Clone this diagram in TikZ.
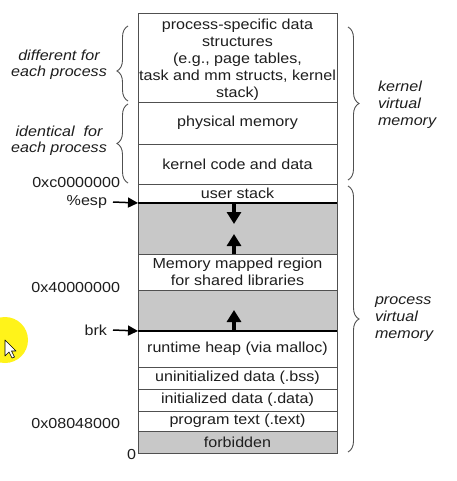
\documentclass[tikz,border=0pt]{standalone}
\usepackage{fontspec}
\setmainfont[FakeStretch=1.11]{Liberation Sans}
\usetikzlibrary{arrows.meta,decorations.pathreplacing}
\definecolor{edge}{HTML}{505050}
\definecolor{grayfill}{HTML}{C8C8C8}
\definecolor{ink}{HTML}{1E1E1E}
\begin{document}
\begin{tikzpicture}[x=1pt,y=-1pt,
  every node/.style={text=ink,font=\fontsize{14.5}{17}\selectfont,inner sep=0pt,outer sep=0pt},
  region/.style={draw=edge,line width=0.9pt,minimum width=199pt,align=center,fill=white},
  hole/.style={region,fill=grayfill},
  addr/.style={anchor=east},
  side/.style={font=\fontsize{14.5}{15.5}\selectfont\itshape,align=center},
  sideL/.style={font=\fontsize{14.5}{17}\selectfont\itshape,align=left,anchor=west},
  brc/.style={decorate,decoration={brace,amplitude=11pt},draw=edge,line width=0.9pt},
  ptr/.style={-{Triangle[width=10pt,length=10pt]},line width=1.5pt,black},
  growarrow/.style={-{Triangle[width=14pt,length=12pt]},line width=3.5pt,black}
]
\useasboundingbox (0,0) rectangle (456,481);
\fill[white] (0,0) rectangle (456,481);

% regions
\node[region,minimum height=89pt] (pss) at (237.5,57.5) {};
\node[align=center] (psst) at (237.5,60) {process-specific data\\structures\\(e.g., page tables,\\task and mm structs, kernel\\stack)};
\node[region,minimum height=42pt] (phys) at (237.5,123) {physical memory};
\node[region,minimum height=40pt] (kcode) at (237.5,164) {kernel code and data};
\node[region,minimum height=19pt] (ustack) at (237.5,193.5) {user stack};
\node[hole,minimum height=51pt] (gap1) at (237.5,228.5) {};
\node[region,minimum height=36pt] (mmap) at (237.5,272) {Memory mapped region\\for shared libraries};
\node[hole,minimum height=41pt] (gap2) at (237.5,310.5) {};
\node[region,minimum height=36pt] (heap) at (237.5,349) {runtime heap (via malloc)};
\node[region,minimum height=22pt] (bss) at (237.5,378) {uninitialized data (.bss)};
\node[region,minimum height=22pt] (data) at (237.5,400) {initialized data (.data)};
\node[region,minimum height=20pt] (text) at (237.5,421) {program text (.text)};
\node[hole,minimum height=22pt] (forb) at (237.5,442) {forbidden};

% pointer lines
\draw[black,line width=1.4pt] (ustack.south west) -- (ustack.south east);
\draw[black,line width=1.4pt] (heap.north west) -- (heap.north east);

% growth arrows
\coordinate (s1a) at (234,203.5);
\coordinate (s1b) at (234,224);
\coordinate (m1a) at (234,254);
\coordinate (m1b) at (234,234);
\coordinate (h1a) at (234,331);
\coordinate (h1b) at (234,310);
\draw[growarrow] (s1a) -- (s1b);
\draw[growarrow] (m1a) -- (m1b);
\draw[growarrow] (h1a) -- (h1b);

% addresses
\node[addr] (a1) at (120,183) {0xc0000000};
\node[addr] (a2) at (120,288) {0x40000000};
\node[addr] (a3) at (120,424) {0x08048000};
\node[addr] (a0) at (136,455) {0};
\node[addr] (esp) at (107,202) {\%esp};
\node[addr] (brk) at (107,330) {brk};
\coordinate (espt) at (138,203);
\coordinate (brkt) at (138,331);
\draw[ptr] ([xshift=6pt]esp.east) -- (espt);
\draw[ptr] ([xshift=6pt]brk.east) -- (brkt);

% braces
\coordinate (b1a) at (128,101);
\coordinate (b1b) at (128,26);
\coordinate (b2a) at (128,183);
\coordinate (b2b) at (128,104);
\coordinate (b3a) at (348,27);
\coordinate (b3b) at (348,180);
\coordinate (b4a) at (348,186);
\coordinate (b4b) at (348,452);
\draw[brc,decoration={aspect=0.4}] (b1a) -- (b1b);
\draw[brc] (b2a) -- (b2b);
\draw[brc] (b3a) -- (b3b);
\draw[brc] (b4a) -- (b4b);

\node[side] (diff) at (59,65) {different for\\each process};
\node[side] (iden) at (59,141) {identical\ \ for\\each process};
\node[sideL] (kvm) at (378,104.5) {kernel\\virtual\\memory};
\node[sideL] (pvm) at (375,319.5) {process\\virtual\\memory};

% cursor highlight
\begin{scope}
\clip (0,0) rectangle (456,481);
\fill[yellow!90!white] (5,340) circle (23);
\draw[black,fill=white,line width=0.6pt,line join=round] (5,340) -- (5,356) -- (9,352) -- (12,358) -- (14.5,357) -- (11.5,351) -- (16,351) -- cycle;
\end{scope}
\end{tikzpicture}
\end{document}
